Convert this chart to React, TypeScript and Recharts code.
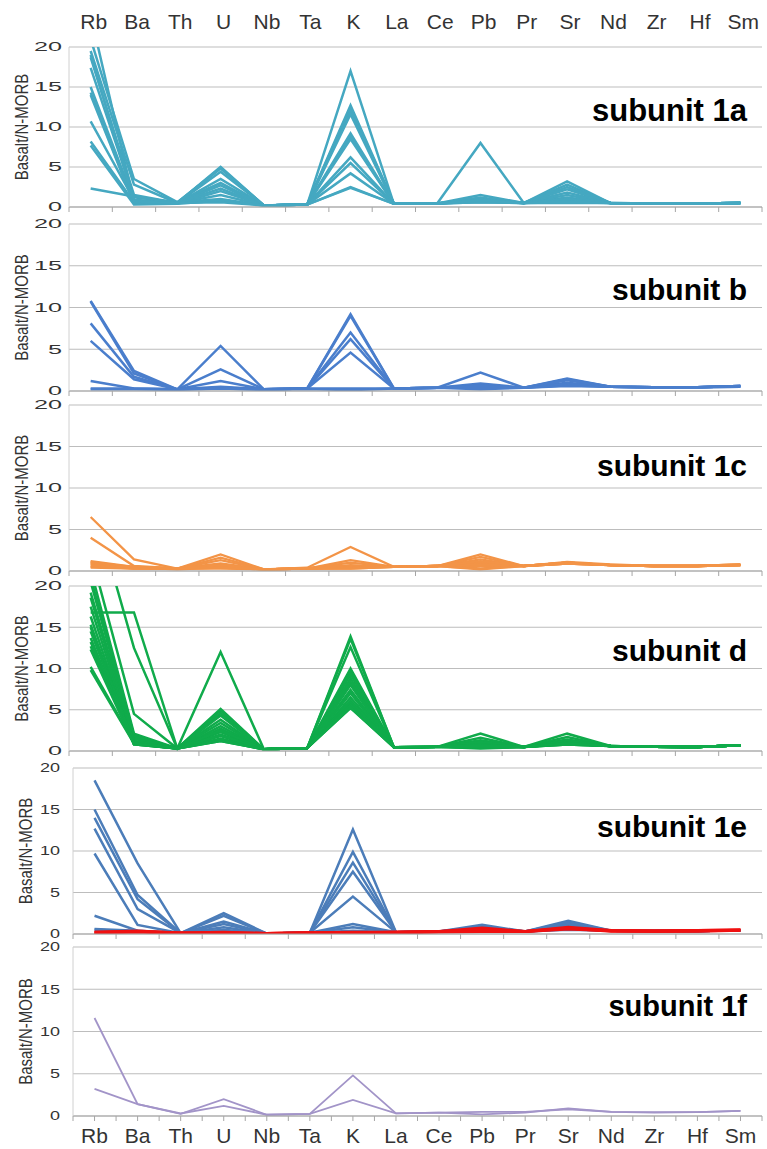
import React from 'react'
import { LineChart, Line, XAxis, YAxis, CartesianGrid, Label } from 'recharts'

const ELEMENTS = ['Rb', 'Ba', 'Th', 'U', 'Nb', 'Ta', 'K', 'La', 'Ce', 'Pb', 'Pr', 'Sr', 'Nd', 'Zr', 'Hf', 'Sm']
const Y_TICKS = [0, 5, 10, 15, 20]

// Basalt / N-MORB ratios, one row per sample, columns follow ELEMENTS
const SUB_1A = [
  [24, 0.6, 0.5, 5.0, 0.2, 0.3, 17.0, 0.4, 0.45, 1.5, 0.5, 3.2, 0.5, 0.45, 0.45, 0.5],
  [21, 3.5, 0.6, 4.8, 0.2, 0.35, 12.7, 0.45, 0.45, 1.2, 0.5, 2.8, 0.5, 0.45, 0.45, 0.5],
  [19.5, 2.8, 0.5, 4.4, 0.2, 0.3, 12.4, 0.4, 0.45, 1.0, 0.5, 2.5, 0.5, 0.45, 0.45, 0.5],
  [18.7, 1.5, 0.5, 3.5, 0.2, 0.3, 12.0, 0.4, 0.45, 8.0, 0.5, 2.2, 0.5, 0.45, 0.45, 0.5],
  [17.4, 1.2, 0.6, 3.0, 0.2, 0.35, 11.6, 0.45, 0.45, 0.9, 0.5, 1.8, 0.5, 0.45, 0.45, 0.5],
  [15.0, 0.8, 0.5, 2.7, 0.2, 0.3, 9.2, 0.4, 0.45, 0.8, 0.5, 1.5, 0.5, 0.45, 0.45, 0.5],
  [14.3, 0.5, 0.5, 2.3, 0.2, 0.3, 8.8, 0.4, 0.45, 0.9, 0.5, 1.2, 0.5, 0.45, 0.45, 0.5],
  [14.0, 0.4, 0.4, 2.0, 0.2, 0.3, 8.5, 0.4, 0.45, 0.7, 0.5, 1.0, 0.5, 0.45, 0.45, 0.5],
  [10.7, 0.9, 0.5, 1.5, 0.2, 0.3, 6.2, 0.4, 0.45, 0.8, 0.5, 0.8, 0.5, 0.45, 0.45, 0.5],
  [8.2, 0.6, 0.6, 1.0, 0.2, 0.3, 5.5, 0.4, 0.45, 0.6, 0.5, 0.6, 0.5, 0.45, 0.45, 0.5],
  [7.7, 0.3, 0.4, 0.8, 0.2, 0.3, 4.2, 0.4, 0.45, 0.7, 0.5, 0.5, 0.5, 0.45, 0.45, 0.5],
  [2.3, 1.3, 0.5, 0.6, 0.2, 0.3, 2.5, 0.4, 0.45, 0.6, 0.5, 1.0, 0.5, 0.45, 0.45, 0.5],
  [19.0, 0.7, 0.5, 4.9, 0.2, 0.3, 2.4, 0.4, 0.45, 0.8, 0.5, 0.7, 0.5, 0.45, 0.45, 0.5],
]

const SUB_B = [
  [10.8, 2.4, 0.2, 5.4, 0.2, 0.3, 9.2, 0.3, 0.4, 0.9, 0.4, 1.5, 0.5, 0.45, 0.45, 0.6],
  [10.7, 2.1, 0.2, 2.6, 0.2, 0.3, 9.0, 0.3, 0.4, 0.7, 0.4, 1.4, 0.5, 0.45, 0.45, 0.6],
  [8.1, 1.7, 0.2, 1.2, 0.2, 0.3, 7.0, 0.3, 0.4, 2.2, 0.4, 1.0, 0.5, 0.45, 0.45, 0.6],
  [6.0, 1.4, 0.2, 0.5, 0.2, 0.3, 6.2, 0.3, 0.4, 0.5, 0.4, 1.3, 0.5, 0.45, 0.45, 0.5],
  [1.2, 0.3, 0.2, 0.4, 0.2, 0.3, 4.6, 0.3, 0.4, 0.6, 0.4, 0.7, 0.5, 0.45, 0.45, 0.5],
  [0.3, 0.3, 0.2, 0.3, 0.2, 0.3, 0.3, 0.3, 0.4, 0.2, 0.4, 0.8, 0.5, 0.45, 0.45, 0.6],
  [0.2, 0.2, 0.15, 0.3, 0.15, 0.25, 0.1, 0.3, 0.4, 0.4, 0.4, 0.6, 0.5, 0.45, 0.45, 0.6],
]

const SUB_1C = [
  [6.5, 1.4, 0.3, 2.0, 0.2, 0.4, 2.9, 0.5, 0.6, 1.0, 0.6, 1.0, 0.7, 0.6, 0.6, 0.7],
  [4.0, 0.6, 0.3, 1.6, 0.2, 0.3, 1.3, 0.5, 0.6, 2.0, 0.6, 1.0, 0.7, 0.6, 0.6, 0.8],
  [1.2, 0.5, 0.3, 1.3, 0.2, 0.3, 1.0, 0.5, 0.6, 1.7, 0.6, 1.1, 0.8, 0.6, 0.6, 0.8],
  [1.1, 0.4, 0.3, 0.9, 0.2, 0.3, 0.7, 0.5, 0.6, 1.4, 0.6, 1.0, 0.7, 0.6, 0.6, 0.7],
  [1.0, 0.5, 0.3, 0.6, 0.2, 0.3, 0.5, 0.5, 0.6, 1.0, 0.6, 0.9, 0.7, 0.6, 0.6, 0.7],
  [0.9, 0.3, 0.3, 0.5, 0.2, 0.3, 0.4, 0.5, 0.6, 0.6, 0.6, 0.9, 0.7, 0.6, 0.6, 0.7],
  [0.8, 0.4, 0.2, 0.4, 0.2, 0.3, 0.3, 0.5, 0.6, 0.3, 0.6, 1.0, 0.7, 0.6, 0.6, 0.7],
  [0.6, 0.3, 0.3, 0.3, 0.2, 0.3, 0.6, 0.5, 0.6, 0.8, 0.6, 0.9, 0.7, 0.6, 0.6, 0.8],
  [0.5, 0.5, 0.3, 0.7, 0.2, 0.3, 0.4, 0.5, 0.6, 1.2, 0.6, 1.0, 0.7, 0.6, 0.6, 0.7],
  [0.4, 0.3, 0.3, 0.4, 0.2, 0.3, 0.3, 0.5, 0.6, 0.2, 0.6, 0.9, 0.7, 0.6, 0.6, 0.7],
]

const SUB_D = [
  [31, 12.5, 0.3, 12.0, 0.2, 0.35, 13.9, 0.45, 0.5, 2.1, 0.5, 2.1, 0.6, 0.5, 0.5, 0.7],
  [24, 4.5, 0.3, 5.1, 0.2, 0.35, 13.6, 0.45, 0.5, 1.6, 0.5, 1.7, 0.6, 0.5, 0.5, 0.7],
  [22, 2.1, 0.3, 4.9, 0.2, 0.35, 12.6, 0.45, 0.5, 1.3, 0.5, 1.4, 0.6, 0.5, 0.5, 0.7],
  [21, 1.9, 0.3, 4.6, 0.2, 0.35, 10.0, 0.45, 0.5, 1.0, 0.5, 1.2, 0.6, 0.5, 0.5, 0.7],
  [20.5, 1.7, 0.3, 4.3, 0.2, 0.35, 9.7, 0.45, 0.5, 0.8, 0.5, 1.0, 0.6, 0.5, 0.5, 0.7],
  [19.2, 1.5, 0.3, 3.8, 0.2, 0.35, 9.3, 0.45, 0.5, 0.6, 0.5, 0.9, 0.6, 0.5, 0.5, 0.7],
  [18.6, 1.2, 0.3, 3.4, 0.2, 0.35, 8.8, 0.45, 0.5, 0.4, 0.5, 0.8, 0.6, 0.5, 0.5, 0.7],
  [17.5, 1.0, 0.3, 3.0, 0.2, 0.35, 8.4, 0.45, 0.5, 0.3, 0.5, 1.1, 0.6, 0.5, 0.5, 0.7],
  [16.8, 16.8, 0.3, 2.7, 0.2, 0.35, 8.0, 0.45, 0.5, 0.9, 0.5, 1.3, 0.6, 0.5, 0.5, 0.7],
  [16.3, 0.9, 0.3, 2.3, 0.2, 0.35, 7.4, 0.45, 0.5, 0.7, 0.5, 1.0, 0.6, 0.5, 0.5, 0.7],
  [15.3, 0.8, 0.3, 2.0, 0.2, 0.35, 7.0, 0.45, 0.5, 0.5, 0.5, 0.9, 0.6, 0.5, 0.5, 0.7],
  [15.0, 1.0, 0.3, 1.8, 0.2, 0.35, 6.5, 0.45, 0.5, 1.1, 0.5, 0.8, 0.6, 0.5, 0.5, 0.7],
  [14.5, 0.9, 0.3, 1.5, 0.2, 0.35, 6.1, 0.45, 0.5, 0.6, 0.5, 1.0, 0.6, 0.5, 0.5, 0.7],
  [13.7, 0.8, 0.3, 1.3, 0.2, 0.35, 5.7, 0.45, 0.5, 0.4, 0.5, 0.9, 0.6, 0.5, 0.5, 0.7],
  [13.2, 1.2, 0.3, 1.2, 0.2, 0.35, 5.4, 0.45, 0.5, 0.8, 0.5, 1.2, 0.6, 0.5, 0.5, 0.7],
  [12.7, 0.9, 0.3, 2.5, 0.2, 0.35, 5.2, 0.45, 0.5, 0.5, 0.5, 0.9, 0.6, 0.5, 0.5, 0.7],
  [12.3, 0.8, 0.3, 1.9, 0.2, 0.35, 6.0, 0.45, 0.5, 0.6, 0.5, 0.8, 0.6, 0.5, 0.5, 0.7],
  [10.2, 1.0, 0.3, 1.4, 0.2, 0.35, 5.6, 0.45, 0.5, 0.7, 0.5, 1.0, 0.6, 0.5, 0.5, 0.7],
  [9.8, 0.9, 0.3, 1.2, 0.2, 0.35, 5.3, 0.45, 0.5, 0.5, 0.5, 0.9, 0.6, 0.5, 0.5, 0.7],
]

const SUB_1E_BLUE = [
  [18.5, 8.5, 0.1, 2.5, 0.05, 0.15, 12.6, 0.2, 0.3, 1.1, 0.3, 1.6, 0.4, 0.35, 0.35, 0.45],
  [15.0, 4.7, 0.1, 2.2, 0.05, 0.15, 9.9, 0.2, 0.3, 0.9, 0.3, 1.4, 0.4, 0.35, 0.35, 0.45],
  [14.0, 4.2, 0.1, 1.5, 0.05, 0.15, 8.6, 0.2, 0.3, 0.8, 0.3, 1.2, 0.4, 0.35, 0.35, 0.45],
  [12.7, 3.0, 0.1, 1.2, 0.05, 0.15, 7.5, 0.2, 0.3, 0.6, 0.3, 1.0, 0.4, 0.35, 0.35, 0.45],
  [9.7, 1.1, 0.1, 0.8, 0.05, 0.15, 4.5, 0.2, 0.3, 0.5, 0.3, 0.8, 0.4, 0.35, 0.35, 0.45],
  [2.2, 0.4, 0.1, 0.5, 0.05, 0.15, 1.2, 0.2, 0.3, 0.4, 0.3, 0.7, 0.4, 0.35, 0.35, 0.45],
  [0.6, 0.4, 0.1, 0.3, 0.05, 0.15, 0.8, 0.2, 0.3, 0.3, 0.3, 0.6, 0.4, 0.35, 0.35, 0.45],
  [0.5, 0.3, 0.1, 0.2, 0.05, 0.15, 0.4, 0.2, 0.3, 0.3, 0.3, 0.5, 0.4, 0.35, 0.35, 0.45],
]

const SUB_1E_RED = [
  [0.2, 0.35, 0.1, 0.15, 0.05, 0.15, 0.2, 0.2, 0.3, 0.7, 0.3, 0.8, 0.4, 0.35, 0.35, 0.45],
  [0.15, 0.3, 0.1, 0.1, 0.05, 0.15, 0.15, 0.2, 0.3, 0.5, 0.3, 0.6, 0.4, 0.35, 0.4, 0.5],
  [0.2, 0.25, 0.1, 0.2, 0.05, 0.15, 0.1, 0.2, 0.25, 0.3, 0.3, 0.7, 0.35, 0.35, 0.4, 0.45],
]

const SUB_1F = [
  [11.6, 1.4, 0.25, 2.0, 0.15, 0.25, 4.8, 0.3, 0.4, 0.2, 0.4, 0.9, 0.5, 0.4, 0.45, 0.6],
  [3.2, 1.4, 0.3, 1.2, 0.15, 0.25, 1.9, 0.3, 0.4, 0.5, 0.5, 0.8, 0.5, 0.45, 0.45, 0.6],
]

const FONT = '"Liberation Sans", Arial, sans-serif'
const AXIS_GREY = '#a6a6a6'
const GRID_GREY = '#bdbdbd'
const TEXT = '#333333'
const W = 767
const PLOT_RIGHT = 762

type Group = { rows: number[][]; color: string; width: number }

interface PanelProps {
  title: string
  groups: Group[]
  top: number
  bottom: number
  left: number
  titleBaseline: number
  titleSize: number
  topLabels?: boolean
  bottomLabels?: boolean
  tickScale: number
}

function Panel({ title, groups, top, bottom, left, titleBaseline, titleSize, topLabels, bottomLabels, tickScale }: PanelProps) {
  const bw = (PLOT_RIGHT - left) / ELEMENTS.length
  const padTop = topLabels ? top : 12
  const axisH = bottomLabels ? 34 : 8
  const height = padTop + (bottom - top) + axisH

  const data = ELEMENTS.map((el, i) => {
    const row: Record<string, string | number> = { el }
    groups.forEach((g, gi) => g.rows.forEach((r, ri) => { row[`g${gi}s${ri}`] = r[i] }))
    return row
  })

  const BottomTick = (p: any) => {
    const last = p.index === ELEMENTS.length - 1
    return (
      <g>
        <line x1={p.x - bw / 2} x2={p.x - bw / 2} y1={p.y} y2={p.y + 5} stroke={AXIS_GREY} />
        {last && <line x1={p.x + bw / 2} x2={p.x + bw / 2} y1={p.y} y2={p.y + 5} stroke={AXIS_GREY} />}
        {bottomLabels && <line x1={p.x} x2={p.x} y1={p.y} y2={p.y + 5} stroke={AXIS_GREY} />}
        {bottomLabels && (
          <text x={p.x} y={p.y + 27} textAnchor="middle" fontSize={21} fill={TEXT} fontFamily={FONT}>
            {p.payload.value}
          </text>
        )}
      </g>
    )
  }

  const TopTick = (p: any) => (
    <text x={p.x + 3} y={p.y - 18} textAnchor="middle" fontSize={21} fill={TEXT} fontFamily={FONT}>
      {p.payload.value}
    </text>
  )

  const YTick = (p: any) => (
    <text
      transform={`translate(${p.x - (left > 70 ? 13 : 7)},${p.y}) scale(${tickScale},1)`}
      textAnchor="end"
      dominantBaseline="central"
      fontSize={12}
      fill={TEXT}
      fontFamily={FONT}
    >
      {p.payload.value}
    </text>
  )

  const labelX = left - 47

  return (
    <>
      <div style={{ position: 'absolute', left: 0, top: top - padTop }}>
        <LineChart width={W} height={height} data={data} margin={{ top: topLabels ? 0 : padTop, right: W - PLOT_RIGHT, bottom: 0, left: 0 }}>
          <CartesianGrid vertical={false} stroke={GRID_GREY} strokeWidth={1.2} />
          {topLabels && (
            <XAxis xAxisId="top" orientation="top" dataKey="el" scale="band" height={padTop}
              axisLine={false} tickLine={false} tickSize={0} tickMargin={0} tick={TopTick} interval={0} />
          )}
          <XAxis xAxisId="main" dataKey="el" scale="band" height={axisH}
            axisLine={{ stroke: AXIS_GREY }} tickLine={false} tickSize={0} tickMargin={0} tick={BottomTick} interval={0} />
          <YAxis domain={[0, 20]} ticks={Y_TICKS} allowDataOverflow width={left} interval={0}
            axisLine={{ stroke: '#d0d0d0' }} tickLine={false} tickSize={0} tickMargin={0} tick={YTick}>
            <Label
              content={(lp: any) => {
                const vb = lp.viewBox
                const cy = vb.y + vb.height / 2
                return (
                  <text transform={`translate(${labelX} ${cy}) scale(1.2 1) rotate(-90)`} textAnchor="middle"
                    dominantBaseline="central" fontSize={15} fill={TEXT} fontFamily={FONT}>
                    Basalt/N-MORB
                  </text>
                )
              }}
            />
          </YAxis>
          {groups.map((g, gi) => g.rows.map((_, ri) => (
            <Line key={`g${gi}s${ri}`} xAxisId="main" dataKey={`g${gi}s${ri}`} stroke={g.color} strokeWidth={g.width}
              dot={false} activeDot={false} isAnimationActive={false} />
          )))}
        </LineChart>
      </div>
      <div style={{
        position: 'absolute', right: W - 747, top: titleBaseline - titleSize * 0.85, fontFamily: FONT,
        fontWeight: 700, fontSize: titleSize, lineHeight: 1, color: '#000', whiteSpace: 'nowrap',
      }}>
        {title}
      </div>
    </>
  )
}

export default function App() {
  return (
    <div style={{ position: 'absolute', left: 0, top: 0, width: W, height: 1149, background: '#fff', overflow: 'hidden' }}>
      <Panel title="subunit 1a" groups={[{ rows: SUB_1A, color: '#45A8C1', width: 2.5 }]}
        top={47} bottom={207} left={69} titleBaseline={121} titleSize={31} topLabels tickScale={2.1} />
      <Panel title="subunit b" groups={[{ rows: SUB_B, color: '#4A7ECC', width: 2.5 }]}
        top={224} bottom={391} left={69} titleBaseline={300} titleSize={30} tickScale={2.1} />
      <Panel title="subunit 1c" groups={[{ rows: SUB_1C, color: '#F39447', width: 2.3 }]}
        top={405} bottom={571} left={69} titleBaseline={476} titleSize={30} tickScale={2.1} />
      <Panel title="subunit d" groups={[{ rows: SUB_D, color: '#10AB4B', width: 2.5 }]}
        top={586} bottom={751} left={69} titleBaseline={661} titleSize={30} tickScale={2.1} />
      <Panel title="subunit 1e" groups={[{ rows: SUB_1E_BLUE, color: '#4C7DB9', width: 2.5 }, { rows: SUB_1E_RED, color: '#F01010', width: 3.2 }]}
        top={768} bottom={934} left={73} titleBaseline={837} titleSize={30} tickScale={1.5} />
      <Panel title="subunit 1f" groups={[{ rows: SUB_1F, color: '#A294C8', width: 1.8 }]}
        top={947} bottom={1116} left={73} titleBaseline={1017} titleSize={29} bottomLabels tickScale={1.5} />
    </div>
  )
}
